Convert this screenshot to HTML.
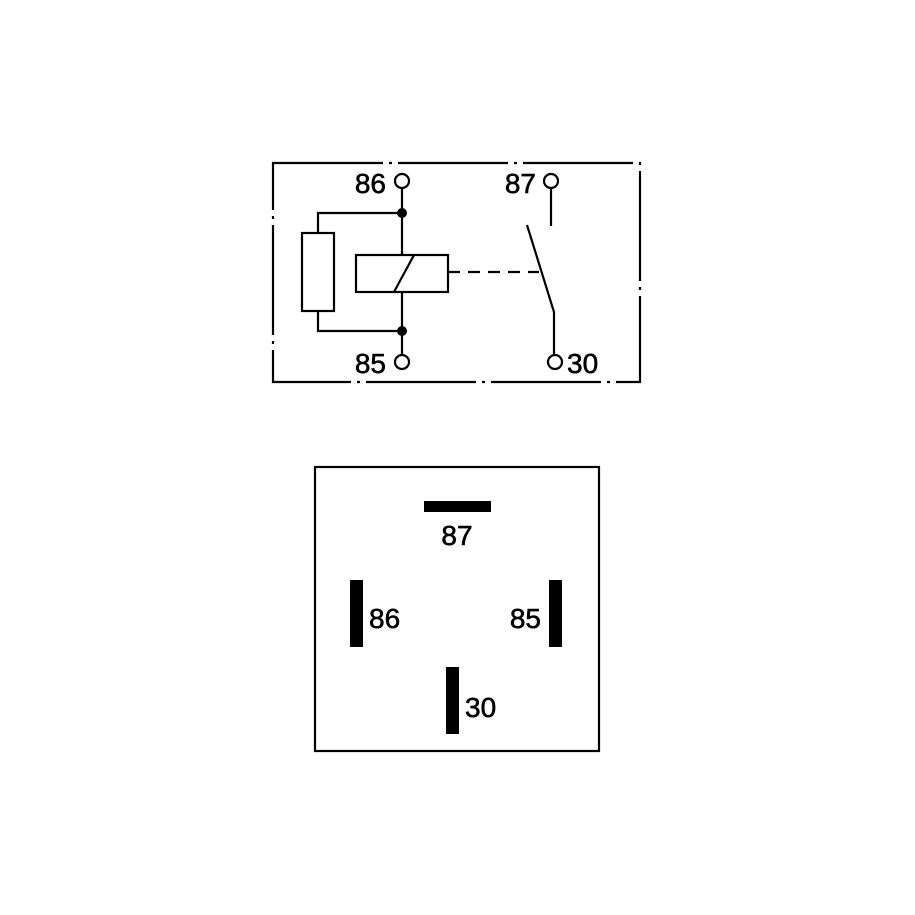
<!DOCTYPE html>
<html><head><meta charset="utf-8"><style>
html,body{margin:0;padding:0;background:#fff;}
svg{display:block;}
text{font-family:"Liberation Sans",Arial,sans-serif;font-size:28px;fill:#000;stroke:#000;stroke-width:0.6;}
</style></head><body>
<svg width="915" height="915" viewBox="0 0 915 915" xmlns="http://www.w3.org/2000/svg">
<g fill="none" stroke="#000" stroke-width="2.2">
<rect x="273" y="163" width="367" height="219" stroke-dasharray="110 6 3 6"/>
<circle cx="402" cy="181" r="7"/>
<circle cx="551" cy="181" r="7"/>
<circle cx="402" cy="362" r="7"/>
<circle cx="555" cy="362" r="7"/>
<line x1="402" y1="188" x2="402" y2="255"/>
<line x1="402" y1="292" x2="402" y2="355"/>
<rect x="356" y="255" width="92" height="37"/>
<line x1="394" y1="292" x2="414" y2="255"/>
<rect x="302" y="233" width="32" height="78"/>
<polyline points="318,233 318,213 402,213"/>
<polyline points="318,311 318,331 402,331"/>
<line x1="551" y1="188" x2="551" y2="226"/>
<polyline points="527,225 554,312 554,355"/>
<line x1="448" y1="272" x2="539" y2="272" stroke-dasharray="12 8"/>
<rect x="315" y="467" width="284" height="284"/>
</g>
<circle cx="402" cy="213" r="5"/>
<circle cx="402" cy="331" r="5"/>
<text x="386" y="193" text-anchor="end">86</text>
<text x="536" y="193" text-anchor="end">87</text>
<text x="386" y="373" text-anchor="end">85</text>
<text x="567" y="373">30</text>
<rect x="424" y="501" width="67" height="11"/>
<rect x="350" y="580" width="13" height="67"/>
<rect x="549" y="580" width="13" height="67"/>
<rect x="446" y="667" width="13" height="67"/>
<text x="457" y="545" text-anchor="middle">87</text>
<text x="369" y="628">86</text>
<text x="541" y="628" text-anchor="end">85</text>
<text x="465" y="717">30</text>
</svg>
</body></html>
